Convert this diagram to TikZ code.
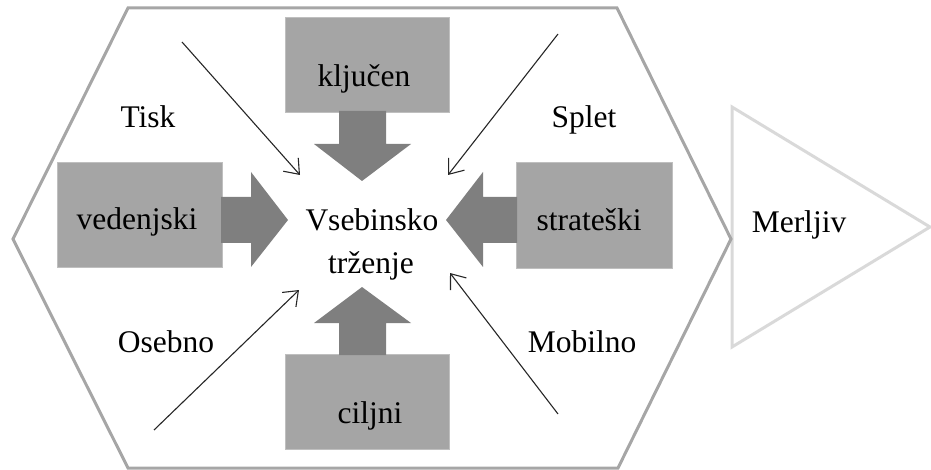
\documentclass[tikz,border=0pt]{standalone}
\usepackage{fontspec}
\setmainfont{Liberation Serif}
\usetikzlibrary{arrows.meta}
\definecolor{hexgray}{HTML}{A6A6A6}
\definecolor{boxgray}{HTML}{A5A5A5}
\definecolor{boxedge}{HTML}{BFBFBF}
\definecolor{arrgray}{HTML}{7F7F7F}
\definecolor{trigray}{HTML}{D9D9D9}
\definecolor{thinblk}{HTML}{262626}
\begin{document}
\begin{tikzpicture}[x=1pt,y=-1pt,
  box/.style={fill=boxgray, draw=boxedge, line width=0.8pt, inner sep=0pt, anchor=north west},
  lbl/.style={anchor=base, inner sep=0pt, font=\fontsize{31.5}{36}\selectfont, text=black},
  blk/.style={fill=arrgray},
  thinarr/.style={draw=thinblk, line width=1.1pt, -{Straight Barb[length=13pt,width=20pt]}}]
\useasboundingbox (0,0) rectangle (931,470);
% outer shapes
\draw[trigray, line width=3pt] (732,107) -- (930,227) -- (732,347) -- cycle;
\draw[hexgray, line width=3pt] (128,8) -- (617,8) -- (731,239) -- (618,468) -- (128,468) -- (13,239) -- cycle;
% boxes
\node[box, minimum width=164pt, minimum height=95pt] (kljb) at (285,17) {};
\node[box, minimum width=165pt, minimum height=105pt] (vedb) at (57,162) {};
\node[box, minimum width=156pt, minimum height=106pt] (strb) at (516,162) {};
\node[box, minimum width=164pt, minimum height=95pt] (cilb) at (285,354) {};
% block arrows
\fill[blk] (339,111) -- (386,111) -- (386,144) -- (411,144) -- (362,181) -- (314,144) -- (339,144) -- cycle;
\fill[blk] (221,197) -- (251,197) -- (251,172) -- (288,220) -- (251,267) -- (251,243) -- (221,243) -- cycle;
\fill[blk] (517,197) -- (483,197) -- (483,172) -- (446,220) -- (483,267) -- (483,243) -- (517,243) -- cycle;
\fill[blk] (339,355) -- (386,355) -- (386,323) -- (411,323) -- (362,287) -- (314,323) -- (339,323) -- cycle;
% texts
\node[lbl] (klj) at (364,87) {ključen};
\node[lbl] (ved) at (137,230) {vedenjski};
\node[lbl] (str) at (589,231) {strateški};
\node[lbl] (cil) at (370,423) {ciljni};
\node[lbl] (vs1) at (372,231) {Vsebinsko};
\node[lbl] (vs2) at (371,273) {trženje};
\node[lbl] (tisk) at (148,128) {Tisk};
\node[lbl] (splet) at (584,128) {Splet};
\node[lbl] (oseb) at (166,352) {Osebno};
\node[lbl] (mob) at (582,352) {Mobilno};
\node[lbl] (merl) at (799,233) {Merljiv};
% thin arrows
\coordinate (a1s) at (182,42);  \coordinate (a1e) at (300,175);
\coordinate (a2s) at (558,34);  \coordinate (a2e) at (448,175);
\coordinate (a3s) at (154,430); \coordinate (a3e) at (299,290);
\coordinate (a4s) at (558,414); \coordinate (a4e) at (450,273);
\draw[thinarr] (a1s) -- (a1e);
\draw[thinarr] (a2s) -- (a2e);
\draw[thinarr] (a3s) -- (a3e);
\draw[thinarr] (a4s) -- (a4e);
\end{tikzpicture}
\end{document}
